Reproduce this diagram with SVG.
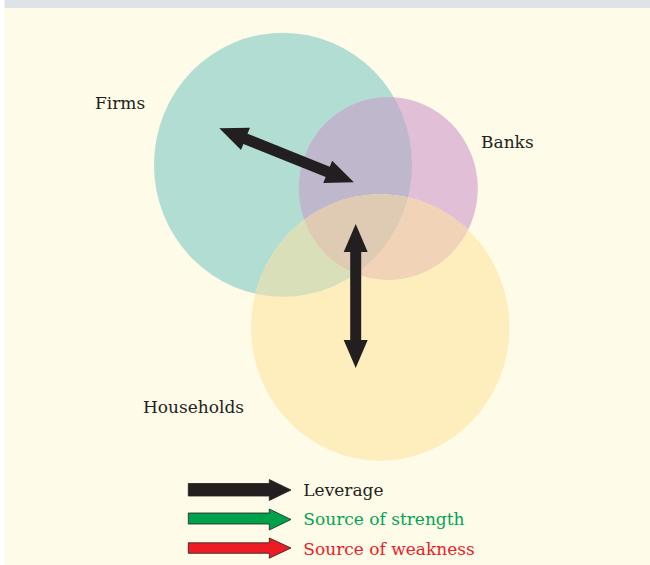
<svg xmlns="http://www.w3.org/2000/svg" width="650" height="565" viewBox="0 0 650 565">
<style>
.lbl{font-family:"DejaVu Serif","Liberation Serif",serif;font-size:17px;fill:#231f20}
.arr{fill:#231f20}
.leg{stroke:#231f20;stroke-width:0.8}
</style>
<defs>
<clipPath id="clipF"><ellipse cx="283" cy="164.7" rx="129" ry="132"/></clipPath>
<clipPath id="clipB"><ellipse cx="388.3" cy="188.5" rx="89.5" ry="91.5"/></clipPath>
<polygon id="dbl" points="0,0 28,-12 28,-5.5 116,-5.5 116,-12 144,0 116,12 116,5.5 28,5.5 28,12"/>
</defs>
<rect x="0" y="0" width="650" height="565" fill="#ffffff"/>
<rect x="4.5" y="8" width="645.5" height="557" fill="#fffbe9"/>
<rect x="4.5" y="0" width="645.5" height="8" fill="#dee3e7"/>

<g id="firms">
<ellipse cx="283" cy="164.7" rx="129" ry="132" fill="#b1ddd3"/>
<text class="lbl" x="95" y="109">Firms</text>
</g>
<g id="banks">
<ellipse cx="388.3" cy="188.5" rx="89.5" ry="91.5" fill="#e1bfd7"/>
<ellipse cx="388.3" cy="188.5" rx="89.5" ry="91.5" fill="#bfb8cd" clip-path="url(#clipF)"/>
<text class="lbl" x="481" y="148">Banks</text>
</g>
<g id="households">
<ellipse cx="380.2" cy="327.5" rx="129.2" ry="133.2" fill="#feeebe"/>
<ellipse cx="380.2" cy="327.5" rx="129.2" ry="133.2" fill="#d9dfb8" clip-path="url(#clipF)"/>
<ellipse cx="380.2" cy="327.5" rx="129.2" ry="133.2" fill="#f1d3b8" clip-path="url(#clipB)"/>
<g clip-path="url(#clipF)">
<ellipse cx="380.2" cy="327.5" rx="129.2" ry="133.2" fill="#dfcbb3" clip-path="url(#clipB)"/>
</g>
<text class="lbl" x="143" y="413">Households</text>
</g>

<g id="connectors">
<use href="#dbl" class="arr" transform="translate(219.3,128.3) rotate(21.85) scale(1.007,1)"/>
<use href="#dbl" class="arr" transform="translate(355.7,224) rotate(90)"/>
</g>

<g id="legend">
<polygon class="leg" fill="#231f20" points="188.3,483.5 269.3,483.5 269.3,479.5 291,490 269.3,500.5 269.3,496 188.3,496"/>
<text class="lbl" x="303.3" y="496">Leverage</text>
<polygon class="leg" fill="#00a14b" points="188.3,513 269.3,513 269.3,509 291,519.5 269.3,530 269.3,524 188.3,524"/>
<text class="lbl" x="303.3" y="525" style="fill:#00a651">Source of strength</text>
<polygon class="leg" fill="#ed1c24" points="188.3,542.8 269.3,542.8 269.3,538 291,548 269.3,558.2 269.3,553.3 188.3,553.3"/>
<text class="lbl" x="303.3" y="554.5" style="fill:#ed1c24">Source of weakness</text>
</g>
</svg>
